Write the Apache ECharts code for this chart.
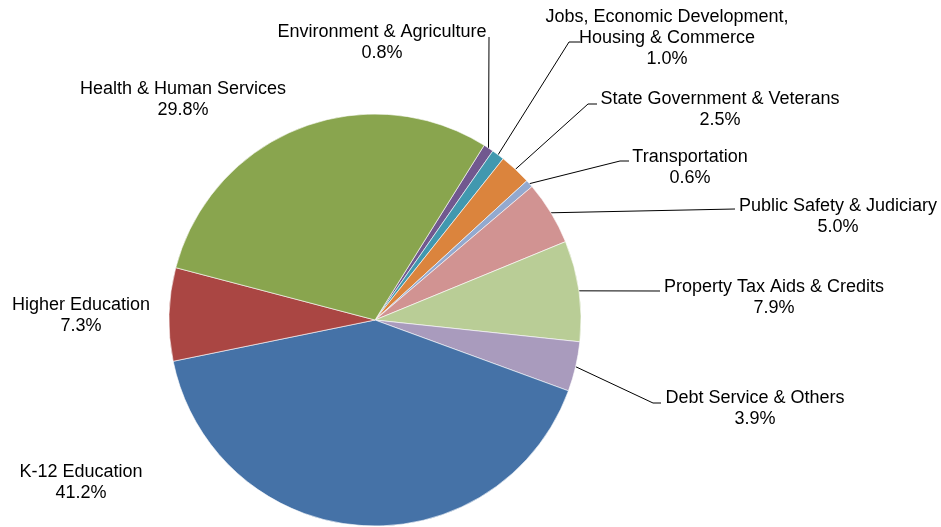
<!DOCTYPE html>
<html>
<head>
<meta charset="utf-8">
<script src="https://cdn.jsdelivr.net/npm/echarts@6/dist/echarts.min.js"></script>
<style>
  html, body { margin: 0; padding: 0; background: #fff; }
  #chart { width: 941px; height: 527px; }
</style>
</head>
<body>
<div id="chart"></div>
<script>
// slices in clockwise order, starting just right of 12 o'clock
var categories = [
    'Environment & Agriculture',
    'Jobs, Economic Development,\nHousing & Commerce',
    'State Government & Veterans',
    'Transportation',
    'Public Safety & Judiciary',
    'Property Tax Aids & Credits',
    'Debt Service & Others',
    'K-12 Education',
    'Higher Education',
    'Health & Human Services'
];
var shares = [0.8, 1.0, 2.5, 0.6, 5.0, 7.9, 3.9, 41.2, 7.3, 29.8];
var colors = ['#71588F', '#4198AF', '#DB843D', '#93A9CF', '#D19392',
              '#B9CD96', '#A99BBD', '#4572A7', '#AA4643', '#89A54E'];

// where each label sits, and the bend points of its leader line
var labelSpots = [
    { x: 382, y: 43,  line: [[489, 37], [489, 37]] },
    { x: 667, y: 38,  line: [[569, 42], [580, 42]] },
    { x: 720, y: 110, line: [[588, 104], [597, 104]] },
    { x: 690, y: 168, line: [[620, 161], [629, 161]] },
    { x: 838, y: 217, line: [[735, 209], [735, 209]] },
    { x: 774, y: 298, line: [[660, 291], [660, 291]] },
    { x: 755, y: 409, line: [[653, 403], [661, 403]] },
    { x: 81,  y: 483, line: null },
    { x: 81,  y: 316, line: null },
    { x: 183, y: 100, line: null }
];

var pieData = categories.map(function (name, i) {
    return {
        name: name,
        value: shares[i],
        itemStyle: { color: colors[i] },
        labelLine: { show: !!labelSpots[i].line }
    };
});

var myChart = echarts.init(document.getElementById('chart'));

var option = {
    backgroundColor: '#ffffff',
    animation: false,
    series: [
        {
            type: 'pie',
            center: [375, 320],
            radius: 206,
            startAngle: 58,
            clockwise: true,
            avoidLabelOverlap: false,
            data: pieData,
            itemStyle: {
                borderColor: '#ffffff',
                borderWidth: 0.6
            },
            label: {
                show: true,
                position: 'outside',
                color: '#000',
                fontFamily: 'Liberation Sans, Arial, sans-serif',
                fontSize: 18,
                lineHeight: 21,
                align: 'center',
                formatter: function (p) {
                    return p.name + '\n' + p.value.toFixed(1) + '%';
                }
            },
            labelLine: {
                show: true,
                length: 20,
                length2: 20,
                lineStyle: { color: '#000', width: 1 }
            },
            labelLayout: function (params) {
                var spot = labelSpots[params.dataIndex];
                var out = { x: spot.x, y: spot.y, align: 'center', verticalAlign: 'middle' };
                if (spot.line && params.labelLinePoints) {
                    out.labelLinePoints = [params.labelLinePoints[0]].concat(spot.line);
                }
                return out;
            }
        }
    ]
};

myChart.setOption(option);
</script>
</body>
</html>
